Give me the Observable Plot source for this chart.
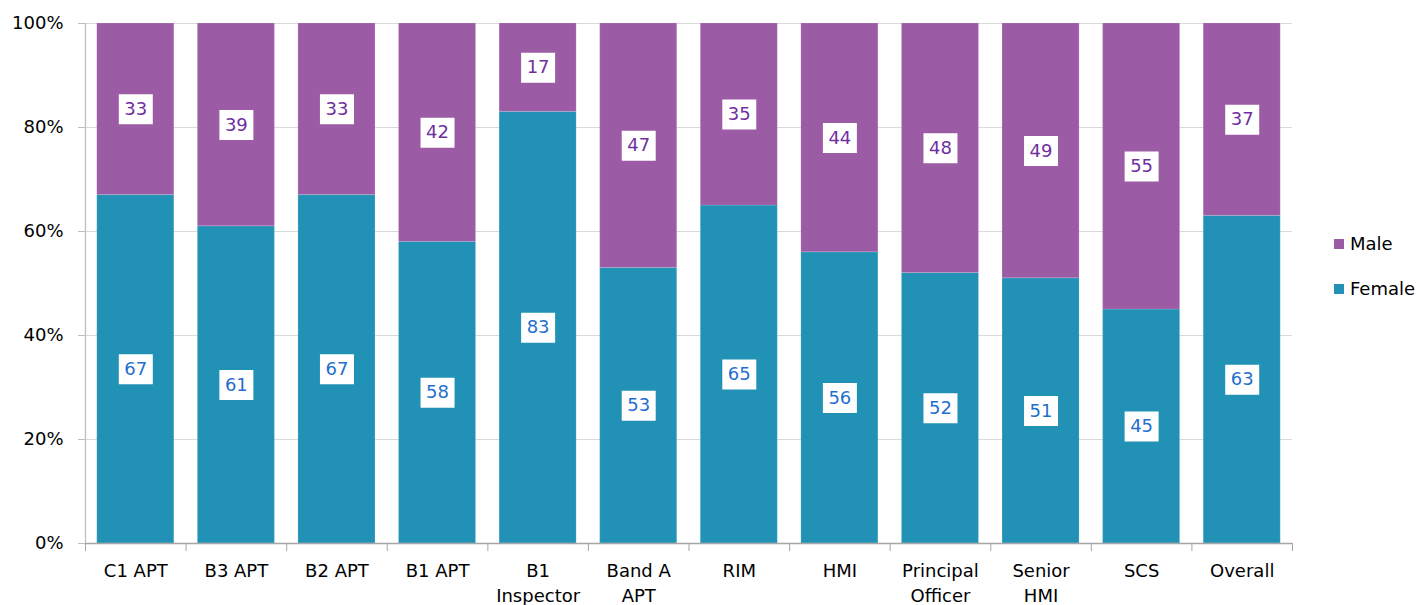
<!DOCTYPE html>
<html>
<head>
<meta charset="utf-8">
<script src="https://cdn.jsdelivr.net/npm/d3@7"></script>
<script src="https://cdn.jsdelivr.net/npm/@observablehq/plot@0.6"></script>
<style>
  html, body { margin: 0; padding: 0; background: #fff; }
  #wrap { position: relative; width: 1417px; height: 605px; font-family: "DejaVu Sans", Verdana, sans-serif; }
  #legend { position: absolute; left: 1334px; top: 221px; font-size: 18px; color: #000; }
  .item { display: flex; align-items: center; height: 45px; }
  .sw { width: 10px; height: 10px; margin-right: 6px; }
</style>
</head>
<body>
<div id="wrap"><div id="chart"></div><div id="legend"></div></div>
<script>
const categories = ["C1 APT", "B3 APT", "B2 APT", "B1 APT", "B1\nInspector", "Band A\nAPT", "RIM", "HMI", "Principal\nOfficer", "Senior\nHMI", "SCS", "Overall"];
const female = [67, 61, 67, 58, 83, 53, 65, 56, 52, 51, 45, 63];
const male = [33, 39, 33, 42, 17, 47, 35, 44, 48, 49, 55, 37];
const yTicks = [0, 20, 40, 60, 80, 100];
const series = ["Female", "Male"];
const barColors = ["#2192b5", "#9b5ba5"];
const labelColors = ["#1f6fcf", "#7030a0"];

const rows = [];
categories.forEach((c, i) => {
  rows.push({cat: c, sex: "Female", v: female[i], mid: female[i] / 2});
  rows.push({cat: c, sex: "Male", v: male[i], mid: female[i] + male[i] / 2});
});

const W = 1417, H = 605, ml = 85, mr = 125, mt = 23, mb = 62;
const step = (W - ml - mr) / categories.length;

const boxSymbol = { draw(ctx) { ctx.rect(-17, -15, 34, 30); } };

const chart = Plot.plot({
  width: W, height: H,
  marginLeft: ml, marginRight: mr, marginTop: mt, marginBottom: mb,
  style: { fontFamily: "DejaVu Sans, Verdana, sans-serif", fontSize: "18px", color: "#000", background: "#fff" },
  x: { domain: categories, paddingInner: 0.234, paddingOuter: 0.117, round: false, label: null },
  y: { domain: [0, 100], label: null },
  color: { domain: series, range: barColors },
  marks: [
    Plot.gridY(yTicks, { stroke: "#d9d9d9", strokeOpacity: 1 }),
    Plot.barY(rows, { x: "cat", y: "v", fill: "sex", stroke: "#ffffff", strokeOpacity: 0.15, strokeWidth: 1 }),
    Plot.ruleY([0], { stroke: "#a6a6a6", strokeWidth: 1.3 }),
    Plot.ruleX([categories[0]], { x: d => d, dx: -step / 2, y1: 0, y2: 100, stroke: "#bfbfbf", strokeWidth: 1.3 }),
    Plot.ruleX(categories, { x: d => d, dx: -step / 2, y1: 0, y2: 0, insetBottom: -8, stroke: "#a6a6a6" }),
    Plot.ruleX([categories[categories.length - 1]], { x: d => d, dx: step / 2, y1: 0, y2: 0, insetBottom: -8, stroke: "#a6a6a6" }),
    Plot.axisY(yTicks, { tickFormat: d => d + "%", tickSize: 7, tickPadding: 15, stroke: "#bfbfbf", fill: "#000", fontSize: 18 }),
    Plot.axisX({ tickSize: 0, tickPadding: 16, fontSize: 18, lineHeight: 1.39, fill: "#000" }),
    Plot.dot(rows, { x: "cat", y: "mid", symbol: boxSymbol, r: 10, fill: "#ffffff", stroke: "none" }),
    Plot.text(rows, { x: "cat", y: "mid", text: d => String(d.v), fill: d => labelColors[series.indexOf(d.sex)], fontSize: 18 })
  ]
});
document.getElementById("chart").appendChild(chart);

const legend = document.getElementById("legend");
["Male", "Female"].forEach(s => {
  const it = document.createElement("div");
  it.className = "item";
  const sw = document.createElement("div");
  sw.className = "sw";
  sw.style.background = barColors[series.indexOf(s)];
  const t = document.createElement("span");
  t.textContent = s;
  it.appendChild(sw); it.appendChild(t);
  legend.appendChild(it);
});
</script>
</body>
</html>
